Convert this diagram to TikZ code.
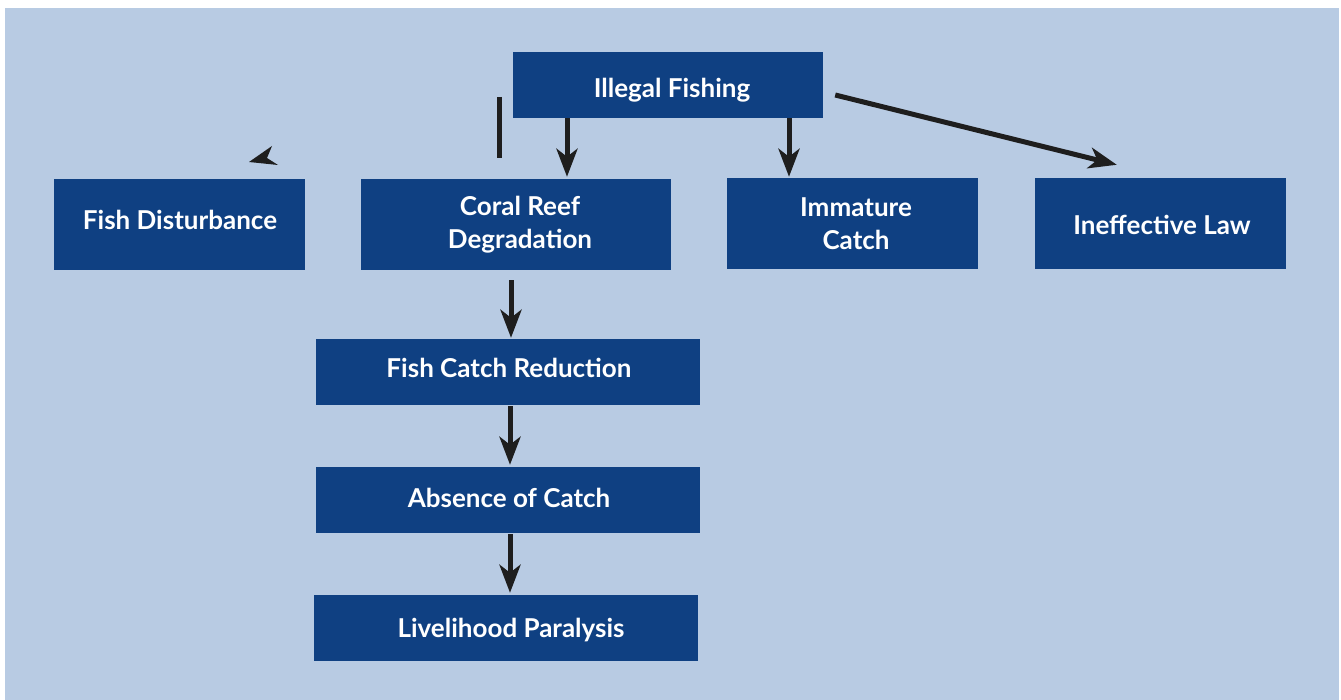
\documentclass[tikz,border=0pt]{standalone}
\usepackage{fontspec}
\setmainfont{Lato}
\usetikzlibrary{arrows.meta,calc}
\definecolor{bgblue}{HTML}{B8CBE3}
\definecolor{boxblue}{HTML}{0F4082}
\definecolor{arrowcol}{HTML}{1E1E1E}
\begin{document}
\begin{tikzpicture}[x=1pt,y=-1pt,
  box/.style={fill=boxblue, draw=none, inner sep=0pt},
  txt/.style={text=white, font=\fontsize{26}{33}\selectfont\bfseries, align=center, inner sep=0pt, anchor=base},
  arr/.style={draw=arrowcol, line width=5pt, -{Stealth[length=28pt,width=21pt,inset=8pt]}},
  ]
\useasboundingbox (0,0) rectangle (1341,700);
\fill[white] (0,0) rectangle (1341,700);
\fill[bgblue] (5,8) rectangle (1339,700);

\node[box, minimum width=310, minimum height=66] (ill) at (668,85) {};
\node[box, minimum width=251, minimum height=91] (dist) at (179.5,224.5) {};
\node[box, minimum width=310, minimum height=91] (coral) at (516,224.5) {};
\node[box, minimum width=251, minimum height=91] (imm) at (852.5,223.5) {};
\node[box, minimum width=251, minimum height=91] (law) at (1160.5,223.5) {};
\node[box, minimum width=384, minimum height=66] (red) at (508,372) {};
\node[box, minimum width=384, minimum height=66] (abs) at (508,500) {};
\node[box, minimum width=384, minimum height=66] (liv) at (506,628) {};

\node[txt] (illt) at (672,97.5) {Illegal Fishing};
\node[txt] (distt) at (180,229.5) {Fish Disturbance};
\node[txt] (coralt) at (520,248.5) {Coral Reef\\Degradation};
\node[txt] (immt) at (856,249.5) {Immature\\Catch};
\node[txt] (lawt) at (1162,234.5) {Ineffective Law};
\node[txt] (redt) at (509,377.5) {Fish Catch Reduction};
\node[txt] (abst) at (509,507.5) {Absence of Catch};
\node[txt] (livt) at (511,637.5) {Livelihood Paralysis};

% arrows from Illegal Fishing
\draw[arr, shorten >=2pt] ([xshift=-101pt]ill.south) -- ([xshift=-101pt]ill.south |- coral.north);
\draw[arr, shorten >=1pt] ([xshift=121pt]ill.south) -- ([xshift=121pt]ill.south |- imm.north);
\coordinate (ls) at ($(ill.east)+(12,10)$);
\coordinate (le) at ($(law.north west)+(82,-13)$);
\draw[arr] (ls) -- (le);

% vertical chain
\draw[arr, shorten <=10pt, shorten >=1pt] ([xshift=-5pt]coral.south) -- ([xshift=-5pt]coral.south |- red.north);
\draw[arr, shorten <=1pt, shorten >=2pt] ([xshift=2pt]red.south) -- ([xshift=2pt]red.south |- abs.north);
\draw[arr, shorten <=1pt, shorten >=2pt] ([xshift=2pt]abs.south) -- ([xshift=2pt]abs.south |- liv.north);

% stray marks
\coordinate (sl1) at (499,97);
\coordinate (sl2) at (499,158);
\draw[draw=arrowcol, line width=5pt] (sl1) -- (sl2);
\fill[arrowcol] (249,162) -- (272,146) -- (267,158) -- (278,165) -- cycle;
\end{tikzpicture}
\end{document}
